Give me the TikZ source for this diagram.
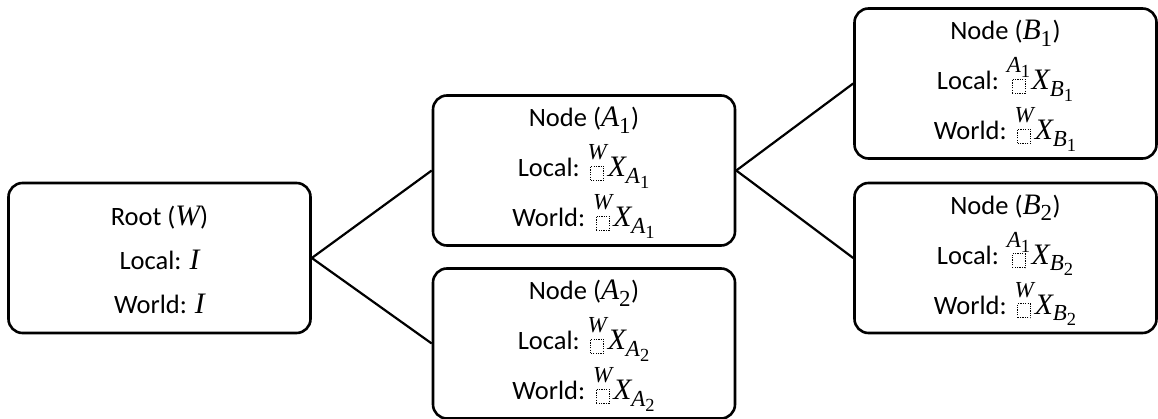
\documentclass[tikz,border=0pt]{standalone}
\usepackage{amsmath}
\usepackage{fontspec}
\setmainfont{Carlito}
\newfontfamily\mfont{Liberation Serif}[Scale=1.12]
% math sizes: text, script, scriptscript
\DeclareMathSizes{26.5}{26.5}{20.5}{16.5}
\DeclareMathSizes{20.5}{20.5}{16.5}{13}
% math letters and digits
\newcommand\mv[1]{\text{\mfont\itshape #1}}
\newcommand\md[1]{\text{\mfont #1}}
% strut that lowers the block of lines a little
\newcommand\topstrut{\rule{0pt}{24pt}}
% dotted placeholder square
\newcommand\phbox{\tikz[baseline=0pt]\draw[line width=1.1pt,sharp corners,dash pattern=on 1.2pt off 1.2pt] (0pt,0pt) rectangle (13pt,14pt);}
% left superscript over a placeholder, as wide as the wider of the two
\newlength\prew
\newcommand\prefont{\fontsize{20.5}{22}\selectfont}
\newcommand\pre[1]{%
  \settowidth\prew{\prefont #1}%
  \ifdim\prew<13pt \prew=13pt\fi
  \rlap{\makebox[\prew]{\raisebox{17pt}{\prefont #1}}}%
  \makebox[\prew]{\raisebox{-3.5pt}{\phbox}}\hspace{1pt}}
\tikzset{
  frame/.style={draw, line width=2.6pt, rounded corners=14pt, minimum width=302pt,
    minimum height=150pt, inner sep=0pt, align=center,
    font=\fontsize{26.5}{50}\selectfont},
  rootframe/.style={frame, font=\fontsize{26.5}{44}\selectfont},
  link/.style={line width=2.2pt}
}
\begin{document}
\begin{tikzpicture}[x=1pt,y=-1pt]
\useasboundingbox (0,0) rectangle (1158,419);
\node[rootframe] (root) at (159.5,258) {\topstrut Root ($\mv{W}$)\\Local: $\mv{I}$\\World: $\mv{I}$};
\node[frame] (a1) at (584,170.5) {\topstrut Node ($\mv{A}_{\md{1}}$)\\Local: \pre{$\mv{W}$}$\mv{X}_{\mv{A}_{\md{1}}}$\\World: \pre{$\mv{W}$}$\mv{X}_{\mv{A}_{\md{1}}}$};
\node[frame] (a2) at (584,343.5) {\topstrut Node ($\mv{A}_{\md{2}}$)\\Local: \pre{$\mv{W}$}$\mv{X}_{\mv{A}_{\md{2}}}$\\World: \pre{$\mv{W}$}$\mv{X}_{\mv{A}_{\md{2}}}$};
\node[frame] (b1) at (1005.5,83.5) {\topstrut Node ($\mv{B}_{\md{1}}$)\\Local: \pre{$\mv{A}_{\md{1}}$}$\mv{X}_{\mv{B}_{\md{1}}}$\\World: \pre{$\mv{W}$}$\mv{X}_{\mv{B}_{\md{1}}}$};
\node[frame] (b2) at (1005.5,258) {\topstrut Node ($\mv{B}_{\md{2}}$)\\Local: \pre{$\mv{A}_{\md{1}}$}$\mv{X}_{\mv{B}_{\md{2}}}$\\World: \pre{$\mv{W}$}$\mv{X}_{\mv{B}_{\md{2}}}$};
\draw[link] (root.east) -- (a1.west);
\draw[link] (root.east) -- (a2.west);
\draw[link] (a1.east) -- (b1.west);
\draw[link] (a1.east) -- (b2.west);
\end{tikzpicture}
\end{document}
